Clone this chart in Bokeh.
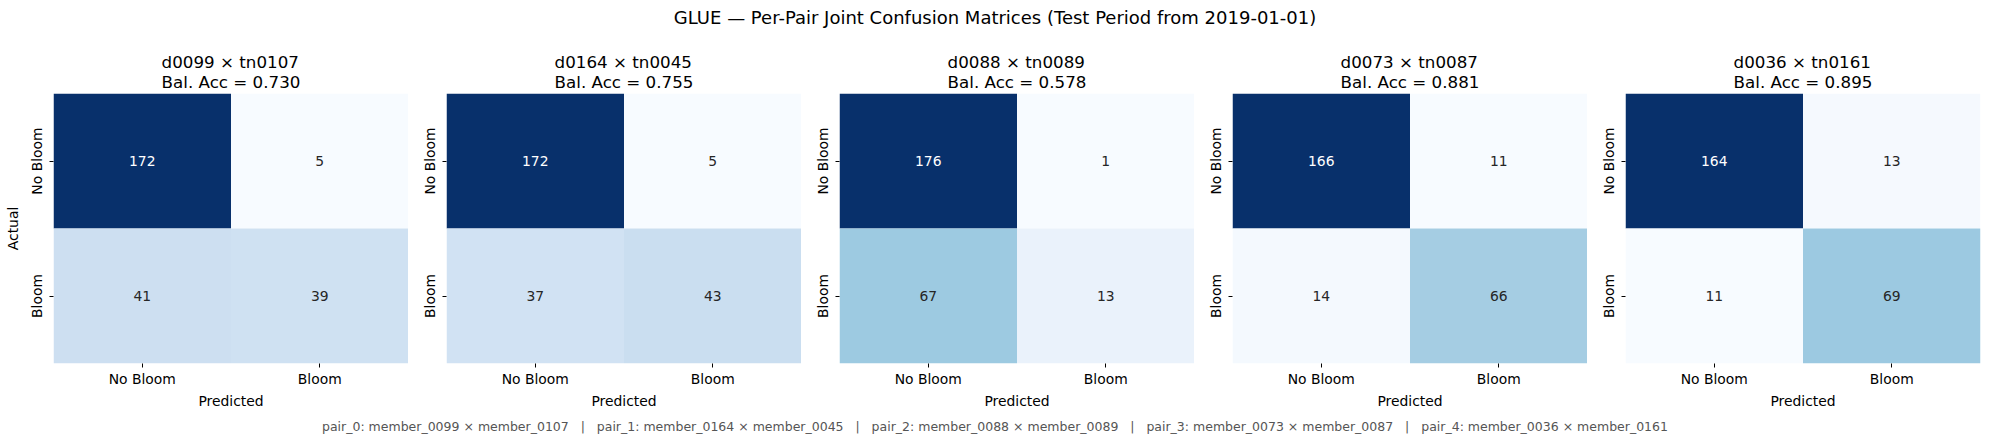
import numpy as np
from bokeh.plotting import figure
from bokeh.layouts import column, row
from bokeh.models import (ColumnDataSource, LinearColorMapper, FactorRange,
                          Title, Div)
from bokeh.core.properties import value
from bokeh.embed import file_html
from bokeh.resources import INLINE

# ---- data -------------------------------------------------------------
pair_titles = ["d0099 × tn0107", "d0164 × tn0045", "d0088 × tn0089",
               "d0073 × tn0087", "d0036 × tn0161"]
pair_members = ["member_0099 × member_0107", "member_0164 × member_0045",
                "member_0088 × member_0089", "member_0073 × member_0087",
                "member_0036 × member_0161"]
tn = [172, 172, 176, 166, 164]   # actual No Bloom, predicted No Bloom
fp = [5, 5, 1, 11, 13]           # actual No Bloom, predicted Bloom
fn = [41, 37, 67, 14, 11]        # actual Bloom, predicted No Bloom
tp = [39, 43, 13, 66, 69]        # actual Bloom, predicted Bloom
class_labels = ["No Bloom", "Bloom"]

suptitle = "GLUE — Per-Pair Joint Confusion Matrices (Test Period from 2019-01-01)"

# ---- colour map: sequential blues, 256 steps ---------------------------
_anchors = ["#f7fbff", "#deebf7", "#c6dbef", "#9ecae1", "#6baed6",
            "#4292c6", "#2171b5", "#08519c", "#08306b"]
_rgb = np.array([[int(h[i:i + 2], 16) for i in (1, 3, 5)] for h in _anchors], float)
_pos = np.linspace(0, 1, len(_anchors))
_t = np.linspace(0, 1, 256)
_pal_rgb = np.stack([np.interp(_t, _pos, _rgb[:, k]) for k in range(3)], axis=1)
blues256 = ["#%02x%02x%02x" % tuple(int(round(c)) for c in rgbv) for rgbv in _pal_rgb]


def rel_luminance(rgbv):
    c = np.asarray(rgbv) / 255.0
    c = np.where(c <= 0.03928, c / 12.92, ((c + 0.055) / 1.055) ** 2.4)
    return 0.2126 * c[0] + 0.7152 * c[1] + 0.0722 * c[2]


FONT = "DejaVu Sans"
FRAME_W, FRAME_H = 355, 270
TOP, BOTTOM = 58, 47

lefts = [53, 38, 38, 38, 38]
rights = [0, 0, 0, 0, 10]

figs = []
for i in range(len(pair_titles)):
    counts = [tn[i], fp[i], fn[i], tp[i]]
    lo, hi = min(counts), max(counts)
    mapper = LinearColorMapper(palette=blues256, low=lo, high=hi)

    preds = ["No Bloom", "Bloom", "No Bloom", "Bloom"]
    acts = ["No Bloom", "No Bloom", "Bloom", "Bloom"]
    txt_colors = []
    for v in counts:
        idx = int(min(255, max(0, np.floor((v - lo) / (hi - lo) * 256))))
        txt_colors.append("#ffffff" if rel_luminance(_pal_rgb[idx]) <= 0.408 else "#262626")

    src = ColumnDataSource(dict(pred=preds, act=acts, count=counts,
                                label=[str(v) for v in counts], tc=txt_colors))

    bal_acc = 0.5 * (tp[i] / (tp[i] + fn[i]) + tn[i] / (tn[i] + fp[i]))

    p = figure(frame_width=FRAME_W, frame_height=FRAME_H,
               x_range=FactorRange(*class_labels),
               y_range=FactorRange(*class_labels[::-1]),
               output_backend="svg", toolbar_location=None,
               min_border_left=lefts[i], min_border_right=rights[i],
               min_border_top=TOP, min_border_bottom=BOTTOM, margin=0)

    p.rect(x="pred", y="act", width=1, height=1, source=src,
           fill_color={"field": "count", "transform": mapper},
           line_color=None)
    p.text(x="pred", y="act", text="label", source=src,
           text_color="tc", text_align="center", text_baseline="middle",
           text_font=value(FONT), text_font_size="13.9px")

    p.add_layout(Title(text="%s\nBal. Acc = %.3f" % (pair_titles[i], bal_acc),
                       align="center", text_font=FONT, text_font_size="16.7px",
                       text_font_style="normal", text_color="black",
                       text_line_height=1.0, standoff=3), "above")

    p.grid.visible = False
    p.outline_line_color = None
    p.background_fill_color = "white"
    p.border_fill_color = "white"

    for ax in (p.xaxis[0], p.yaxis[0]):
        ax.axis_line_color = None
        ax.major_tick_line_color = "black"
        ax.major_tick_line_width = 1
        ax.major_tick_out = 4
        ax.major_tick_in = 0
        ax.minor_tick_line_color = None
        ax.major_label_text_font = FONT
        ax.major_label_text_font_size = "13.9px"
        ax.major_label_text_color = "black"
        ax.axis_label_text_font = FONT
        ax.axis_label_text_font_size = "13.9px"
        ax.axis_label_text_font_style = "normal"
        ax.axis_label_text_color = "black"
    p.xaxis.axis_label = "Predicted"
    p.xaxis.axis_label_standoff = 3
    p.xaxis.major_label_standoff = 3
    p.yaxis.major_label_orientation = "vertical"
    if i == 0:
        p.yaxis.axis_label = "Actual"
    figs.append(p)

header = Div(text=suptitle, width=1990, height=35, margin=0,
             styles={"font-family": FONT, "font-size": "18px", "color": "black",
                     "text-align": "center", "width": "1990px",
                     "line-height": "36px", "white-space": "nowrap"})
footer_text = "   |   ".join("pair_%d: %s" % (k, m) for k, m in enumerate(pair_members))
footer = Div(text=footer_text, width=1990, height=33, margin=0,
             styles={"font-family": FONT, "font-size": "12.5px", "color": "#555555",
                     "text-align": "center", "width": "1990px",
                     "line-height": "32px", "white-space": "pre"})

layout = column(header, row(*figs, spacing=0), footer, spacing=0)

open("out.html", "w").write(file_html(layout, INLINE))
